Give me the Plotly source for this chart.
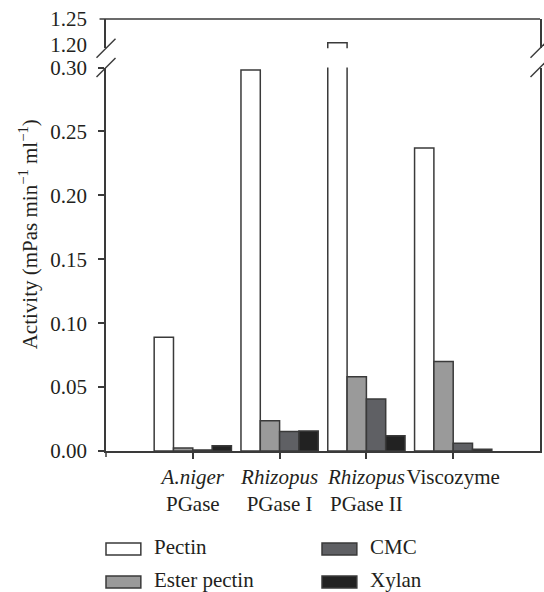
import plotly.graph_objects as go

# ---------------- data ----------------
categories = ["A.niger PGase", "Rhizopus PGase I", "Rhizopus PGase II", "Viscozyme"]
tick_labels = ["<i>A.niger</i><br>PGase", "<i>Rhizopus</i><br>PGase I",
               "<i>Rhizopus</i><br>PGase II", "Viscozyme"]
series_names = ["Pectin", "Ester pectin", "CMC", "Xylan"]
pectin = [0.089, 0.298, 1.204, 0.237]
ester_pectin = [0.0023, 0.0237, 0.058, 0.070]
cmc = [0.0008, 0.0152, 0.0406, 0.0060]
xylan = [0.0041, 0.0157, 0.0120, 0.0013]
lower_ticks = [0.00, 0.05, 0.10, 0.15, 0.20, 0.25, 0.30]
upper_ticks = [1.20, 1.25]

series_values = [pectin, ester_pectin, cmc, xylan]
fill_colors = ["#ffffff", "#9a9a9a", "#5f6064", "#222222"]
edge = "#3a3a3a"
FONT = "Liberation Serif"
FS = 21
TXT = "#231f20"

W, H = 544, 592
ML, MR, MT, MB = 106, 2, 19, 141
PW, PH = W - ML - MR, H - MT - MB


def px_x(p):
    return (p - ML) / PW


def px_y(p):
    return (H - MB - p) / PH


lower_top = px_y(67.5)
upper_bottom = px_y(48.3)

xs = list(range(len(categories)))

fig = go.Figure()
for yax in ["y", "y2"]:
    for name, vals, col in zip(series_names, series_values, fill_colors):
        fig.add_trace(go.Bar(
            x=xs, y=vals, name=name, yaxis=yax, showlegend=False,
            marker=dict(color=col, line=dict(color=edge, width=1.5)),
            hoverinfo="name+y",
        ))

axis_common = dict(showgrid=False, zeroline=False, showline=True,
                   linecolor=edge, linewidth=1.5,
                   tickfont=dict(family=FONT, size=FS, color=TXT))

fig.update_layout(
    width=W, height=H,
    margin=dict(l=ML, r=MR, t=MT, b=MB),
    paper_bgcolor="white", plot_bgcolor="white",
    barmode="group", bargap=0.11, bargroupgap=0,
    font=dict(family=FONT, size=FS, color=TXT),
    xaxis=dict(range=[-1, 4], tickvals=xs, ticktext=tick_labels, tickangle=0,
               ticks="outside", ticklen=6, tickcolor=edge, tickwidth=1.5,
               anchor="y", **axis_common),
    yaxis=dict(domain=[0, lower_top], range=[0, 0.30], tickvals=lower_ticks,
               tickformat=".2f", ticks="outside", ticklen=6, tickcolor=edge,
               tickwidth=1.5, ticklabelstandoff=7, mirror=True, anchor="x",
               **axis_common),
    yaxis2=dict(domain=[upper_bottom, 1], range=[1.193, 1.2502], tickvals=upper_ticks,
                tickformat=".2f", ticks="outside", ticklen=6,
                tickcolor="rgba(0,0,0,0)", tickwidth=1.5, ticklabelstandoff=7,
                mirror=True, anchor="x", **axis_common),
)

# top frame line (also acts as the 1.25 tick)
fig.add_shape(type="line", xref="paper", yref="paper",
              x0=px_x(99.5), x1=1, y0=1, y1=1,
              line=dict(color=edge, width=1.5))

# small downward stub of the y axis below the x axis
fig.add_shape(type="line", xref="paper", yref="paper",
              xsizemode="pixel", ysizemode="pixel", xanchor=0, yanchor=0,
              x0=0, x1=0, y0=0, y1=-6, line=dict(color=edge, width=1.5))

# axis-break slashes on both sides
for xa in [0, 1]:
    for ya in [upper_bottom, lower_top]:
        fig.add_shape(type="line", xref="paper", yref="paper",
                      xsizemode="pixel", ysizemode="pixel",
                      xanchor=xa, yanchor=ya,
                      x0=-9.5, x1=9.5, y0=-9.5, y1=9.5,
                      line=dict(color=edge, width=1.5))

# y axis title
fig.add_annotation(text="Activity (mPas min<sup>−1</sup> ml<sup>−1</sup>)",
                   xref="paper", yref="paper", x=px_x(28), y=px_y(234),
                   xanchor="center", yanchor="middle", textangle=-90,
                   showarrow=False, font=dict(family=FONT, size=FS, color=TXT))

# legend (manual, 2 columns)
legend_pos = [(106, 549), (106, 582), (323, 549), (323, 582)]
for name, col, (lx, ly) in zip(series_names, fill_colors, legend_pos):
    fig.add_shape(type="rect", xref="paper", yref="paper",
                  x0=px_x(lx), x1=px_x(lx + 35), y0=px_y(ly - 6), y1=px_y(ly + 6),
                  fillcolor=col, line=dict(color=edge, width=1.5))
    fig.add_annotation(text=name, xref="paper", yref="paper",
                       x=px_x(lx + 46), y=px_y(ly - 2), xanchor="left", yanchor="middle",
                       showarrow=False, font=dict(family=FONT, size=FS, color=TXT))

fig.write_html("out.html")
